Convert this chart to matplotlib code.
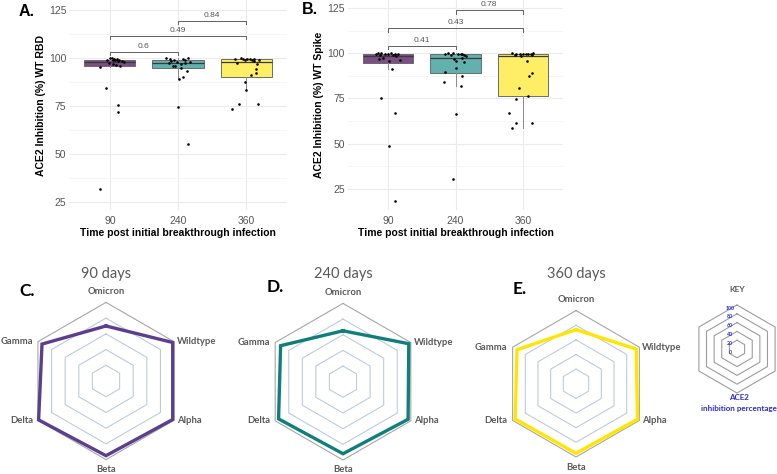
import matplotlib
matplotlib.use('Agg')
import matplotlib.pyplot as plt
import numpy as np

# ------------------------------------------------------------------ data
TIMEPOINTS = ['90', '240', '360']

RBD_90 = [99.2, 99.8, 100, 99.5, 98.9, 99.3, 98.5, 99, 98.7, 98.3,
          97.5, 98, 96.8, 96.2, 96, 95.5, 84.4, 75.7, 72, 31.6]
RBD_240 = [100, 99.5, 98.6, 97.6, 98.1, 95.8, 96.9, 99.8, 98, 93.4,
           89.2, 90, 74.3, 55, 99.3, 99, 98.8, 96, 95, 97.2]
RBD_360 = [99.5, 99.5, 99.4, 99.3, 99.2, 97.6, 96.7, 94.1, 91.1, 92,
           87.7, 83.3, 76, 73.3, 75.9, 99.8, 99.6, 99, 98.9, 98.6]

SPIKE_90 = [100, 100, 99.9, 99.8, 99.8, 99.7, 99.5, 99.3, 99, 98.8,
            98.5, 97.5, 97, 96.5, 95.5, 91.3, 75.5, 67.2, 48.9, 18.4]
SPIKE_240 = [100, 99.9, 99.8, 99.7, 99.6, 99.5, 99.2, 99, 98.5, 97.5,
             97, 95.7, 95.2, 91.9, 89.8, 87.4, 84.3, 82.1, 66.3, 30.5]
SPIKE_360 = [100, 99.9, 99.8, 99.7, 99.6, 99.5, 99.4, 99.3, 99.2, 99,
             98.5, 95.9, 89.1, 87.4, 80.6, 76.2, 74.8, 66.8, 61.2, 61.2, 58.9]

PVALS_RBD = ['0.6', '0.49', '0.84']
PVALS_SPIKE = ['0.41', '0.43', '0.78']
PAIRS = [(0, 1), (0, 2), (1, 2)]

VARIANTS = ['Omicron', 'Wildtype', 'Alpha', 'Beta', 'Delta', 'Gamma']
RADAR_90 = [70, 98, 98, 95, 99, 94]
RADAR_240 = [65, 97, 96, 92, 95, 92]
RADAR_360 = [74, 95, 97, 95, 96, 93]
RADAR_TITLES = ['90 days', '240 days', '360 days']
KEY_TICKS = [0, 20, 40, 60, 80, 100]

# ------------------------------------------------------------------ style / layout
W, H = 777, 474
FILLS = ['#7C4D87', '#63B1AE', '#FDEE66']
RADAR_COLORS = ['#5B3E8E', '#0F7F7C', '#FFE500']

JIT_RBD = [
    [-0.04, 0.0, 0.03, 0.06, 0.08, 0.10, 0.12, 0.14, 0.05, 0.18,
     -0.02, 0.20, 0.04, 0.09, 0.15, -0.15, -0.06, 0.12, 0.12, -0.14],
    [-0.18, -0.12, -0.10, -0.13, -0.01, -0.04, 0.04, 0.14, 0.17, 0.13,
     0.01, 0.07, 0.0, 0.15, 0.08, -0.06, 0.10, -0.08, 0.05, 0.11],
    [-0.17, -0.05, 0.05, 0.11, 0.19, -0.13, 0.16, 0.15, 0.07, 0.14,
     -0.01, 0.0, -0.11, -0.21, 0.17, -0.08, 0.02, 0.09, -0.02, 0.12],
]
JIT_SPIKE = [
    [-0.15, 0.05, -0.10, 0.10, -0.05, 0.15, 0.0, -0.18, 0.08, -0.12,
     0.12, -0.08, -0.14, 0.18, 0.02, 0.06, -0.11, 0.11, 0.01, 0.11],
    [-0.11, -0.04, 0.03, 0.09, 0.08, -0.15, 0.12, -0.07, 0.15, 0.10,
     -0.02, 0.01, 0.13, 0.01, -0.16, 0.10, -0.17, 0.08, 0.0, -0.03],
    [0.15, -0.16, -0.05, 0.0, 0.05, 0.12, -0.10, 0.08, -0.12, 0.14,
     -0.03, 0.06, 0.13, 0.09, -0.06, 0.07, -0.10, -0.20, -0.11, 0.13, -0.16],
]

plt.rcParams['font.family'] = ['Liberation Sans', 'DejaVu Sans']

fig = plt.figure(figsize=(W / 100, H / 100), dpi=100)


def px_axes(l, t, r, b):
    return fig.add_axes([l / W, 1 - b / H, (r - l) / W, (b - t) / H])


def ftext(x, y, s, **kw):
    fig.text(x / W, 1 - y / H, s, **kw)


def box_panel(ax, groups, jitters, pvals, bracket_y, ylim, ylabel, ppu):
    bp = ax.boxplot(groups, positions=range(len(groups)), widths=0.75,
                    patch_artist=True, showfliers=False, showcaps=False,
                    whis=1.5, manage_ticks=False,
                    boxprops=dict(edgecolor='#6b6b6b', linewidth=0.7),
                    medianprops=dict(color='#3a3a3a', linewidth=0.9),
                    whiskerprops=dict(color='#8a8a8a', linewidth=0.7))
    for patch, c in zip(bp['boxes'], FILLS):
        patch.set_facecolor(c)
    for i, (vals, jit) in enumerate(zip(groups, jitters)):
        ax.scatter(np.array(jit) + i, vals, s=3.5, color='black',
                   linewidths=0, zorder=4)
    tick = 3.3 / ppu
    for (a, b), p, yb in zip(PAIRS, pvals, bracket_y):
        ax.plot([a, a, b, b], [yb - tick, yb, yb, yb - tick],
                color='#606060', lw=0.7, zorder=3)
        ax.annotate(p, xy=((a + b) / 2, yb), xytext=(0, 4),
                    textcoords='offset points', ha='center', va='center',
                    fontsize=6, color='#555555')
    ax.set_xlim(-0.6, 2.6)
    ax.set_ylim(*ylim)
    for s in ax.spines.values():
        s.set_visible(False)
    ax.set_yticks([25, 50, 75, 100, 125])
    ax.set_yticks([37.5, 62.5, 87.5, 112.5], minor=True)
    ax.set_xticks(range(len(TIMEPOINTS)))
    ax.set_xticklabels(TIMEPOINTS)
    ax.grid(True, which='major', color='#ebebeb', lw=0.8, zorder=0)
    ax.grid(True, which='minor', axis='y', color='#f5f5f5', lw=0.6, zorder=0)
    ax.tick_params(which='both', length=0, labelsize=7.5, labelcolor='#555555')
    ax.tick_params(axis='y', pad=2)
    ax.tick_params(axis='x', pad=4)
    ax.set_axisbelow(True)
    ax.set_ylabel(ylabel, fontsize=7.5, fontweight='bold', labelpad=2)
    ax.set_xlabel('Time post initial breakthrough infection',
                  fontsize=7.5, fontweight='bold', labelpad=1.5)


axA = px_axes(69, 0, 287, 210)
box_panel(axA, [RBD_90, RBD_240, RBD_360], JIT_RBD, PVALS_RBD,
          [103.3, 111.5, 119.4], (20.8, 130.2),
          'ACE2 Inhibition (%) WT RBD', 1.92)

axB = px_axes(347.5, 0, 563.5, 210)
box_panel(axB, [SPIKE_90, SPIKE_240, SPIKE_360], JIT_SPIKE, PVALS_SPIKE,
          [104.2, 113.8, 123.7], (13.4, 129.4),
          'ACE2 Inhibition (%) WT Spike', 1.81)

ftext(27, 11, 'A.', fontsize=11.5, fontweight='bold', ha='center', va='center')
ftext(310, 10, 'B.', fontsize=11.5, fontweight='bold', ha='center', va='center')

# ------------------------------------------------------------------ radar charts
ANG = np.deg2rad(np.arange(6) * 60.0)
SX, SY = np.sin(ANG), np.cos(ANG)
RFONT = ['Lato', 'DejaVu Sans']


def radar_axes(cx, cy, R):
    ax = px_axes(cx - 1.5 * R, cy - 1.3 * R, cx + 1.5 * R, cy + 1.3 * R)
    ax.set_xlim(-1.5, 1.5)
    ax.set_ylim(-1.3, 1.3)
    ax.axis('off')
    return ax


def hexagon(ax, frac, **kw):
    xs = np.append(SX, SX[0]) * frac
    ys = np.append(SY, SY[0]) * frac
    ax.plot(xs, ys, **kw)


def radar(cx, cy, R, vals, color, title, letter, letter_xy):
    ax = radar_axes(cx, cy, R)
    levels = KEY_TICKS[1:]
    for lev in levels:
        c = '#a6a6a6' if lev == max(levels) else '#bfcadb'
        hexagon(ax, lev / 100, color=c, lw=0.8, zorder=1)
    v = np.array(vals) / 100
    ax.plot(np.append(SX * v, SX[0] * v[0]), np.append(SY * v, SY[0] * v[0]),
            color=color, lw=2.4, zorder=3, solid_joinstyle='miter')
    lk = dict(fontsize=6.8, color='#595959', fontweight='bold', family=RFONT)
    ax.text(0, 1 + 11 / R, VARIANTS[0], ha='center', va='center', **lk)
    ax.text(SX[1] + 3 / R, SY[1], VARIANTS[1], ha='left', va='center', **lk)
    ax.text(SX[2] + 3 / R, SY[2], VARIANTS[2], ha='left', va='center', **lk)
    ax.text(0, -1 - 10 / R, VARIANTS[3], ha='center', va='center', **lk)
    ax.text(SX[4] - 5 / R, SY[4], VARIANTS[4], ha='right', va='center', **lk)
    ax.text(SX[5] - 5 / R, SY[5], VARIANTS[5], ha='right', va='center', **lk)
    ftext(cx, 274, title, fontsize=10.5, color='#595959', ha='center',
          va='center', family=RFONT)
    ftext(letter_xy[0], letter_xy[1], letter, fontsize=12.5, fontweight='bold',
          ha='center', va='center', family=RFONT)


radar(106, 381, 78.6, RADAR_90, RADAR_COLORS[0], RADAR_TITLES[0], 'C.', (27, 291))
radar(343, 381.7, 78.3, RADAR_240, RADAR_COLORS[1], RADAR_TITLES[1], 'D.', (275, 287))
radar(576, 383.8, 73.2, RADAR_360, RADAR_COLORS[2], RADAR_TITLES[2], 'E.', (520, 289))

# key
kx, ky, kR = 737, 349, 44
axK = radar_axes(kx, ky, kR)
for lev in KEY_TICKS[1:]:
    hexagon(axK, lev / 100, color='#9c9c9c', lw=0.8)
for lev in KEY_TICKS:
    axK.text(-7 / kR, lev / 100 - 3 / kR, str(lev), ha='center', va='center',
             fontsize=3.8, color='#2a2ae0', fontweight='bold', family=RFONT)
ftext(kx, 290, 'KEY', fontsize=6, color='#595959', fontweight='bold',
      ha='center', va='center', family=RFONT)
ftext(739, 398, 'ACE2', fontsize=5.8, color='#2a2ae0', fontweight='bold',
      ha='center', va='center', family=RFONT)
ftext(739, 408, 'inhibition percentage', fontsize=5.8, color='#2a2ae0',
      fontweight='bold', ha='center', va='center', family=RFONT)

fig.savefig('out.png', dpi=100)
